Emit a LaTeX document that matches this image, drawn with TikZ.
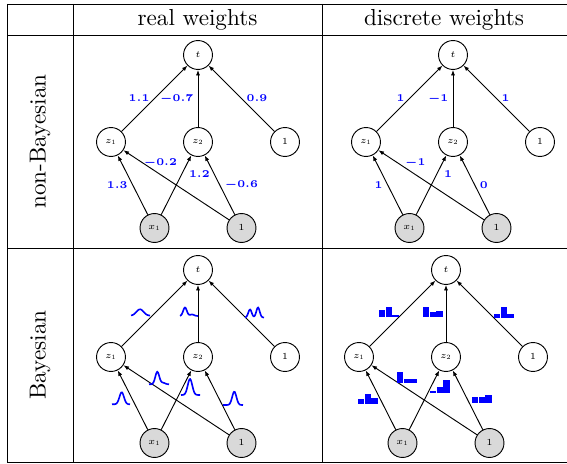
\RequirePackage{fix-cm}
\documentclass[tikz,border=0pt]{standalone}
\usepackage{amsmath}
\usepackage{amssymb}
\usetikzlibrary{arrows.meta}
\begin{document}
\begin{tikzpicture}[scale=0.01518]
    \tikzstyle{every node}+=[inner sep=0pt]
    \tikzstyle{unit}=[draw, circle, minimum size=12.5pt, font=\fontsize{4}{4.5}\selectfont]
    \tikzstyle{obs}=[unit, fill=gray!30]
    \tikzstyle{arr}=[-{Latex[length=2.4pt,width=1.8pt]}]
    \tikzstyle{wt}=[font=\fontsize{4.5}{5}\selectfont\boldmath, text=blue]
    \tikzstyle{bump}=[blue, line width=0.7pt]
    \tikzstyle{bar}=[fill=blue]
    \useasboundingbox (0,0) rectangle (567,-464);
    % table
    \draw (7,-4) -- (566.5,-4);
    \draw (7,-35) -- (566.5,-35);
    \draw (7,-248) -- (566.5,-248);
    \draw (7,-462) -- (566.5,-462);
    \draw (7,-4) -- (7,-462);
    \draw (73,-4) -- (73,-462);
    \draw (322,-4) -- (322,-462);
    \node (hreal) at (197.5,-19.5) {real weights};
    \node (hdisc) at (444,-19.5) {discrete weights};
    \node[rotate=90] (rnon) at (40,-141.5) {non-Bayesian};
    \node[rotate=90] (rbay) at (40,-355) {Bayesian};
    % non-Bayesian, real weights
    \begin{scope}[shift={(198,-55)}]
    \node[unit] (at) at (0,0) {$t$};
    \node[unit] (az1) at (-87,-87) {$z_1$};
    \node[unit] (az2) at (0,-87) {$z_2$};
    \node[unit] (ac) at (87,-87) {$1$};
    \node[obs] (ax) at (-43.5,-173) {$x_1$};
    \node[obs] (ab) at (43.5,-173) {$1$};
    \draw[arr] (az1) -- node[wt, left=2pt] {$1.1$} (at);
    \draw[arr] (az2) -- node[wt, left=1.8pt] {$-0.7$} (at);
    \draw[arr] (ac) -- node[wt, right=2pt] {$0.9$} (at);
    \draw[arr] (ax) -- node[wt, left=2pt] {$1.3$} (az1);
    \draw[arr] (ab) -- node[wt, above=2.5pt, pos=0.65] {$-0.2$} (az1);
    \draw[arr] (ax) -- node[wt, right=3pt, pos=0.68] {$1.2$} (az2);
    \draw[arr] (ab) -- node[wt, right=2pt] {$-0.6$} (az2);
    \end{scope}
    % non-Bayesian, discrete weights
    \begin{scope}[shift={(453,-55)}]
    \node[unit] (bt) at (0,0) {$t$};
    \node[unit] (bz1) at (-87,-87) {$z_1$};
    \node[unit] (bz2) at (0,-87) {$z_2$};
    \node[unit] (bc) at (87,-87) {$1$};
    \node[obs] (bx) at (-43.5,-173) {$x_1$};
    \node[obs] (bb) at (43.5,-173) {$1$};
    \draw[arr] (bz1) -- node[wt, left=2pt] {$1$} (bt);
    \draw[arr] (bz2) -- node[wt, left=1.8pt] {$-1$} (bt);
    \draw[arr] (bc) -- node[wt, right=2pt] {$1$} (bt);
    \draw[arr] (bx) -- node[wt, left=2pt] {$1$} (bz1);
    \draw[arr] (bb) -- node[wt, above=2.5pt, pos=0.65] {$-1$} (bz1);
    \draw[arr] (bx) -- node[wt, right=3pt, pos=0.68] {$1$} (bz2);
    \draw[arr] (bb) -- node[wt, right=2pt] {$0$} (bz2);
    \end{scope}
    % Bayesian, real weights
    \begin{scope}[shift={(198,-270)}]
    \node[unit] (ct) at (0,0) {$t$};
    \node[unit] (cz1) at (-87,-87) {$z_1$};
    \node[unit] (cz2) at (0,-87) {$z_2$};
    \node[unit] (cc) at (87,-87) {$1$};
    \node[obs] (cx) at (-43.5,-173) {$x_1$};
    \node[obs] (cb) at (43.5,-173) {$1$};
    \draw[arr] (cz1) -- (ct);
    \draw[arr] (cz2) -- (ct);
    \draw[arr] (cc) -- (ct);
    \draw[arr] (cx) -- (cz1);
    \draw[arr] (cb) -- (cz1);
    \draw[arr] (cx) -- (cz2);
    \draw[arr] (cb) -- (cz2);
    \draw[bump] plot[domain=-67:-48, samples=30] (\x, {-45.7+6.4*exp(-((\x+58)/5)^2)});
    \draw[bump] plot[domain=-18:0, samples=30] (\x, {-46+8.5*exp(-((\x+13)/2.6)^2)+1.5*exp(-((\x+6)/3)^2)});
    \draw[bump] plot[domain=47:66, samples=30] (\x, {-47.5+8*exp(-((\x-52)/2.4)^2)+10*exp(-((\x-60)/2.4)^2)});
    \draw[bump] plot[domain=-49:-29, samples=30] (\x, {-114.3+12.5*exp(-((\x+40.7)/2.8)^2)+1.5*exp(-((\x+35)/3)^2)});
    \draw[bump] plot[domain=-17:2, samples=30] (\x, {-125+16*exp(-((\x+8)/3.2)^2)});
    \draw[bump] plot[domain=-86:-68, samples=30] (\x, {-134.3+12*exp(-((\x+76.3)/3.2)^2)});
    \draw[bump] plot[domain=25:45, samples=30] (\x, {-135+13.3*exp(-((\x-36.3)/3)^2)});
    \end{scope}
    % Bayesian, discrete weights
    \begin{scope}[shift={(446,-270)}]
    \node[unit] (dt) at (0,0) {$t$};
    \node[unit] (dz1) at (-87,-87) {$z_1$};
    \node[unit] (dz2) at (0,-87) {$z_2$};
    \node[unit] (dc) at (87,-87) {$1$};
    \node[obs] (dx) at (-43.5,-173) {$x_1$};
    \node[obs] (db) at (43.5,-173) {$1$};
    \draw[arr] (dz1) -- (dt);
    \draw[arr] (dz2) -- (dt);
    \draw[arr] (dc) -- (dt);
    \draw[arr] (dx) -- (dz1);
    \draw[arr] (db) -- (dz1);
    \draw[arr] (dx) -- (dz2);
    \draw[arr] (db) -- (dz2);
    \foreach \x/\y/\a/\b/\c in {-67/-47/6.7/10/2.3, -23/-47/10/5/5.7, 48/-48.3/4/11.7/4.3,
        -49/-113.3/11.7/4/4, -16/-123.3/2.7/6.7/13.3, -88/-133.7/4.7/10/6, 26/-133.3/6.7/6.7/8.3} {
      \fill[bar] (\x,\y) rectangle +(6.4,\a);
      \fill[bar] (\x+6.7,\y) rectangle +(6.4,\b);
      \fill[bar] (\x+13.4,\y) rectangle +(6.4,\c);
    }
    \end{scope}
\end{tikzpicture}
\end{document}
